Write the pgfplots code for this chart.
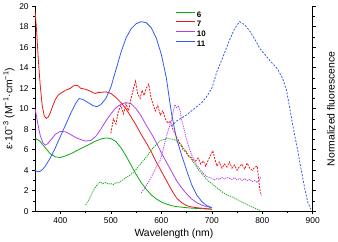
\documentclass[border=0pt]{standalone}
\usepackage{fontspec}
\setmainfont{Liberation Sans}
\usepackage{pgfplots}
\pgfplotsset{compat=1.18}
\definecolor{cg}{RGB}{10,170,10}
\definecolor{cr}{RGB}{240,20,20}
\definecolor{cv}{RGB}{180,60,240}
\definecolor{cb}{RGB}{50,90,240}
\begin{document}
\begin{tikzpicture}
\pgfplotsset{
  common/.style={
    width=279bp, height=206bp, scale only axis,
    xmin=350, xmax=900, ymin=0, ymax=20,
    xtick={400,500,...,900}, minor x tick num=1,
    ytick={0,2,...,20}, minor y tick num=1,
    tick align=outside, major tick length=3bp, minor tick length=2bp,
    tick style={black, line width=0.6pt},
    axis line style={line width=0.8pt},
    /pgf/number format/assume math mode=true,
    tick label style={font=\fontsize{8.5}{10}\selectfont},
    label style={font=\fontsize{10.5}{12}\selectfont},
    clip=false,
  }
}
\begin{axis}[common,
  axis x line*=bottom, axis y line*=left,
  xlabel={Wavelength (nm)},
  ylabel={ε·10\textsuperscript{−3} (M\textsuperscript{−1}·cm\textsuperscript{−1})},
  ylabel style={yshift=-2bp},
  xlabel style={yshift=2bp},
  legend style={at={(0.50,0.99)}, anchor=north west, draw=none, fill=none,
    font=\fontsize{8}{9}\selectfont\bfseries, row sep=-1.2pt,
    legend cell align=left, inner sep=1pt,
    /tikz/every even column/.append style={column sep=5bp}},
  legend image code/.code={\draw[#1] (0bp,2.9bp) -- (19bp,2.9bp);},
  every axis plot/.append style={line width=0.8pt},
]
\addlegendimage{cg, line width=0.9pt}
\addlegendentry{6}
\addlegendimage{cr, line width=0.9pt}
\addlegendentry{7}
\addlegendimage{cv, line width=0.9pt}
\addlegendentry{10}
\addlegendimage{cb, line width=0.9pt}
\addlegendentry{11}
% absorption (solid)
\addplot[cg, forget plot] coordinates {(350,7.15)(360,6.8)(370,6.2)(380,5.6)(390,5.3)(400,5.25)(410,5.4)(420,5.6)(430,5.85)(440,6.1)(450,6.35)(460,6.6)(470,6.85)(480,7.05)(490,7.15)(500,7.1)(510,6.8)(520,6.2)(530,5.4)(540,4.5)(550,3.6)(560,2.8)(570,2.15)(580,1.6)(590,1.2)(600,0.9)(610,0.7)(620,0.55)(630,0.45)(640,0.4)(660,0.3)(680,0.25)(700,0.2)};
\addplot[cr, forget plot] coordinates {(350,19.5)(353,17.5)(356,15)(360,12.3)(364,10.3)(368,9.3)(372,9.05)(376,9.2)(380,9.6)(385,10.3)(390,10.9)(395,11.3)(400,11.5)(410,11.8)(420,12.0)(425,12.2)(430,12.3)(435,12.25)(440,12.0)(450,11.9)(460,11.7)(465,11.55)(470,11.5)(475,11.6)(480,11.6)(490,11.65)(500,11.5)(510,11.1)(520,10.6)(530,10.0)(540,9.2)(550,8.4)(560,7.5)(570,6.7)(580,5.8)(590,4.8)(600,3.9)(610,3.0)(620,2.1)(630,1.3)(640,0.85)(650,0.55)(660,0.42)(670,0.35)(680,0.3)(700,0.2)};
\addplot[cv, forget plot] coordinates {(350,10.0)(355,8.6)(360,7.4)(365,6.7)(370,6.45)(375,6.6)(380,6.9)(390,7.5)(400,7.8)(410,7.75)(420,7.5)(430,7.2)(440,7.0)(450,6.85)(460,6.9)(470,7.3)(480,8.0)(490,8.8)(500,9.5)(510,10.1)(520,10.45)(530,10.6)(540,10.5)(550,10.0)(560,9.3)(570,8.4)(580,7.6)(590,6.7)(600,5.7)(610,4.8)(620,3.9)(630,3.0)(640,2.3)(650,1.7)(660,1.2)(670,0.85)(680,0.6)(690,0.45)(700,0.35)};
\addplot[cb, forget plot] coordinates {(350,4.0)(355,3.85)(360,3.9)(365,4.1)(370,4.4)(380,5.2)(390,6.2)(400,7.3)(410,8.4)(420,9.5)(430,10.5)(437,11.0)(445,10.9)(455,10.6)(465,10.3)(472,10.2)(480,10.4)(490,11.0)(500,12.1)(510,13.8)(520,15.5)(530,16.9)(540,17.8)(550,18.3)(560,18.5)(570,18.4)(580,17.9)(590,16.9)(600,15.3)(610,13.0)(614,11.6)(620,9.6)(625,8.3)(630,7.1)(640,5.5)(650,4.0)(660,2.6)(670,1.6)(680,0.95)(690,0.55)(700,0.35)};
% emission (dashed / dotted)
\addplot[cg, dash pattern=on 1.2pt off 1pt, forget plot] coordinates {(450,0.6)(455,1.0)(460,1.5)(465,2.0)(470,2.4)(478,2.85)(484,2.7)(490,2.8)(495,2.65)(500,2.7)(505,2.6)(510,2.8)(515,2.75)(520,2.95)(525,3.1)(530,3.3)(537,3.5)(545,3.8)(552,4.2)(560,4.7)(567,5.1)(575,5.6)(582,6.1)(590,6.5)(597,6.85)(605,7.0)(612,7.15)(618,7.05)(625,7.0)(630,6.85)(635,6.7)(640,6.45)(645,6.1)(650,5.8)(655,5.4)(660,5.0)(665,4.7)(670,4.3)(677,3.85)(685,3.4)(692,3.0)(700,2.7)(710,2.3)(720,1.9)(730,1.6)(740,1.4)(750,1.15)(760,0.9)(770,0.65)(780,0.4)(790,0.2)(797,0.05)};
\addplot[cr, dash pattern=on 2pt off 1.2pt, forget plot] coordinates {(500,7.6)(505,9.0)(510,8.5)(515,9.8)(520,10.3)(525,9.5)(530,10.5)(535,9.8)(540,11.0)(545,12.0)(549,12.7)(553,11.5)(558,11.0)(562,11.8)(566,11.3)(570,12.0)(575,12.4)(579,11.2)(583,10.5)(588,9.8)(593,10.3)(598,9.4)(603,9.8)(608,9.0)(613,8.6)(618,8.8)(623,8.0)(628,7.5)(633,7.0)(638,6.5)(643,6.0)(648,5.8)(653,5.4)(658,5.3)(663,5.0)(668,4.9)(673,5.2)(678,4.6)(683,4.9)(688,4.4)(693,5.0)(698,5.5)(702,5.9)(706,5.1)(710,4.4)(715,4.8)(720,4.2)(725,4.6)(730,4.3)(735,4.8)(740,4.2)(745,4.5)(750,4.0)(755,4.4)(760,4.6)(765,4.1)(770,4.7)(775,4.2)(780,4.0)(785,4.3)(790,4.4)(793,3.0)(795,2.2)(798,1.5)};
\addplot[cv, dash pattern=on 1.2pt off 1pt, forget plot] coordinates {(560,1.8)(565,2.1)(570,2.5)(575,2.9)(581,3.4)(587,4.0)(592,4.5)(598,5.0)(604,6.1)(610,7.3)(615,8.1)(620,8.9)(624,9.8)(627,10.4)(630,10.1)(634,10.3)(637,9.8)(640,9.0)(645,8.0)(650,7.0)(655,6.2)(660,5.5)(665,5.0)(670,4.5)(675,4.2)(680,3.9)(685,3.6)(690,3.4)(695,3.3)(700,3.2)(705,3.05)(710,3.2)(715,3.1)(720,3.3)(725,3.15)(730,3.3)(735,3.2)(740,3.1)(745,3.3)(750,3.05)(755,3.2)(760,3.0)(765,3.2)(770,3.0)(775,3.1)(780,2.9)(785,3.0)(790,2.8)(795,3.1)(797,3.4)};
\addplot[cb, dash pattern=on 2pt off 1.5pt, forget plot] coordinates {(620,8.3)(630,8.8)(640,9.1)(650,9.4)(660,9.8)(670,10.2)(680,10.6)(690,11.2)(700,12.0)(710,13.6)(720,14.8)(735,16.7)(745,17.8)(755,18.5)(765,18.2)(775,17.6)(785,16.8)(795,15.9)(805,15.3)(815,14.7)(830,13.9)(840,13.0)(848,11.8)(855,9.9)(860,8.5)(865,7.2)(870,6.0)(875,4.6)(880,3.3)(885,2.0)(890,0.9)(896,0.2)};
\end{axis}
\begin{axis}[common,
  axis y line*=right, axis x line=none,
  yticklabels={},
  ylabel={Normalized fluorescence},
  ylabel style={yshift=-1bp},
]
\end{axis}
\end{tikzpicture}
\end{document}
